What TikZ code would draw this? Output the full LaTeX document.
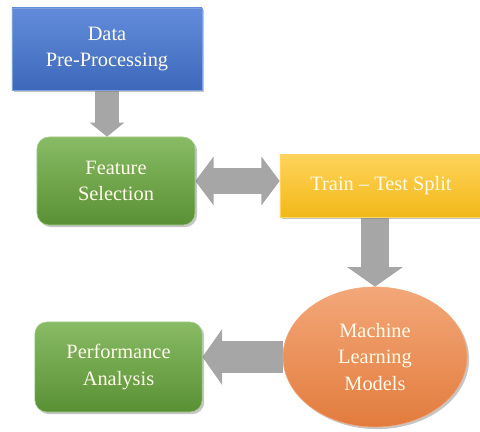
\documentclass[tikz,border=0pt]{standalone}
\usepackage{fontspec}
\setmainfont{Liberation Serif}
\usepackage{tikz}
\tikzset{>=latex}
\usetikzlibrary{arrows.meta, shapes.geometric, shadows, backgrounds}

\definecolor{boxblue}{HTML}{4677D4}
\definecolor{boxgreen}{HTML}{6AAA3E}
\definecolor{boxyellow}{HTML}{FFC21A}
\definecolor{boxorange}{HTML}{EE8240}
\definecolor{arrowgray}{HTML}{A6A6A6}
\definecolor{textcream}{HTML}{FFFBEA}

\begin{document}
\begin{tikzpicture}[x=.025cm, y=.025cm,
    stage/.style={text=textcream, align=center, font=\rmfamily\fontsize{14.5}{19}\selectfont,
        drop shadow={shadow xshift=1.5pt, shadow yshift=-1.5pt, opacity=.45}},
    blockarrow/.style={draw=arrowgray, line width=#1}]
    \useasboundingbox(0, 0) rectangle (480, 432);
    \node[stage, rectangle, draw=boxblue!70!white, top color=boxblue!85!white, bottom color=boxblue!88!black,
        minimum width=4.75cm, minimum height=2.05cm](dp) at(107, 383){Data\\Pre-Processing};
    \node[stage, rectangle, rounded corners=.3cm, draw=boxgreen!60!white, top color=boxgreen!80!white, bottom color=boxgreen!85!black,
        minimum width=3.95cm, minimum height=2.2cm](fs) at(116, 251){Feature\\Selection};
    \node[stage, rectangle, draw=boxyellow!70!white, top color=boxyellow!72!white, bottom color=boxyellow!95!black,
        minimum width=5.05cm, minimum height=1.55cm](tts) at(381, 246){Train -- Test Split};
    \node[stage, ellipse, draw=boxorange!70!white, top color=boxorange!70!white, bottom color=boxorange!95!black,
        minimum width=4.6cm, minimum height=3.5cm](ml) at(375, 75){Machine\\Learning\\Models};
    \node[stage, rectangle, rounded corners=.3cm, draw=boxgreen!60!white, top color=boxgreen!80!white, bottom color=boxgreen!85!black,
        minimum width=4.18cm, minimum height=2.25cm](pa) at(118.5, 65){Performance\\Analysis};
    \begin{scope}[on background layer]
        \draw[blockarrow=17pt, -{Triangle[width=24pt, length=10pt]}](dp.south)--(dp.south |- fs.north);
        \draw[blockarrow=19pt, {Triangle[width=34pt, length=13pt]}-{Triangle[width=34pt, length=13pt]}](fs.east)--(fs.east -| tts.west);
        \draw[blockarrow=20pt, -{Triangle[width=39pt, length=14pt]}](ml.north |- tts.south)--(ml.north);
        \draw[blockarrow=23pt, -{Triangle[width=39pt, length=14pt]}](ml.west)--(ml.west -| pa.east);
    \end{scope}
\end{tikzpicture}
\end{document}
